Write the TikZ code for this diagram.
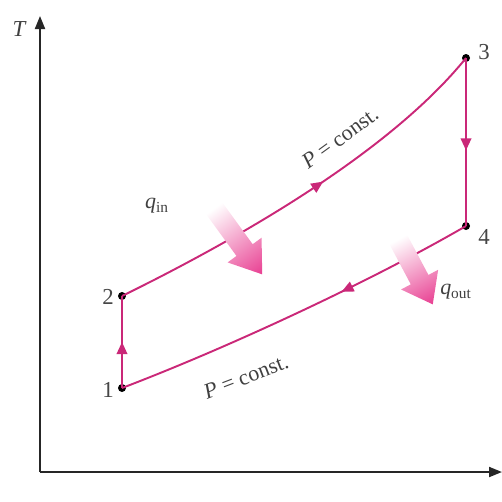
\documentclass[tikz,border=0pt]{standalone}
\usepackage{fontspec}
\setmainfont{Liberation Serif}
\usetikzlibrary{arrows.meta,decorations.markings}
\definecolor{linecol}{RGB}{202,40,120}
\definecolor{arrowcol}{RGB}{232,62,145}
\definecolor{digitcol}{RGB}{70,70,70}
\tikzset{
  pdot/.style={circle,fill=black,inner sep=0pt,minimum size=1.6mm},
  proc/.style={draw=linecol,line width=1.1pt},
  midarrow/.style={postaction={decorate},decoration={markings,mark=at position #1 with {\arrow{Triangle[length=2.4mm,width=2.1mm]}}}},
  axisline/.style={draw=black!85,line width=1.1pt},
  lbl/.style={font=\fontsize{13}{15}\selectfont,text=digitcol,inner sep=1pt},
  txt/.style={font=\fontsize{12.5}{15}\selectfont,text=black!75,inner sep=1pt},
  fatarrow/.style={left color=white,right color=arrowcol,draw=none}
}
\begin{document}
\begin{tikzpicture}[x=0.02cm,y=-0.02cm]
\useasboundingbox (0,0) rectangle (502,501);
% axes
\coordinate (O) at (40,472);
\coordinate (Ttop) at (40,16);
\coordinate (Send) at (502,472);
\draw[axisline,-{Triangle[length=2.6mm,width=2mm]}] (O) -- (Ttop);
\draw[axisline,-{Triangle[length=2.6mm,width=2mm]}] (O) -- (Send);
\node[txt,font=\fontsize{13}{15}\selectfont\itshape] (T) at (19,29) {T};
% state points
\node[pdot] (p1) at (122,388) {};
\node[pdot] (p2) at (122,296) {};
\node[pdot] (p3) at (466,58) {};
\node[pdot] (p4) at (466,226) {};
\node[lbl] (l1) at (108,390) {1};
\node[lbl] (l2) at (108,297) {2};
\node[lbl] (l3) at (484,52) {3};
\node[lbl] (l4) at (484,237) {4};
% processes
\draw[proc,midarrow=0.5] (p1.center) -- (p2.center);
\draw[proc,midarrow=0.55] (p2.center) .. controls (240,238) and (390,152) .. (p3.center);
\draw[proc,midarrow=0.55] (p3.center) -- (p4.center);
\draw[proc,midarrow=0.37] (p4.center) .. controls (366,284) and (222,350) .. (p1.center);
% labels
\node[txt,rotate=36] (c1) at (340,138) {\textit{P} = const.};
\node[txt,rotate=21] (c2) at (246,377) {\textit{P} = const.};
\node[txt] (qin) at (157,206) {\textit{q}\textsubscript{in}};
\node[txt] (qout) at (456,292) {\textit{q}\textsubscript{out}};
% heat arrows
\begin{scope}[transform canvas={rotate around={-54:(214,208)}}]
  \shade[fatarrow] (214,198) -- (266,198) -- (266,187) -- (296,208) -- (266,229) -- (266,218) -- (214,218) -- cycle;
\end{scope}
\begin{scope}[transform canvas={rotate around={-62:(398,239)}}]
  \shade[fatarrow] (398,229) -- (444,229) -- (444,218) -- (472,239) -- (444,260) -- (444,249) -- (398,249) -- cycle;
\end{scope}
\end{tikzpicture}
\end{document}
